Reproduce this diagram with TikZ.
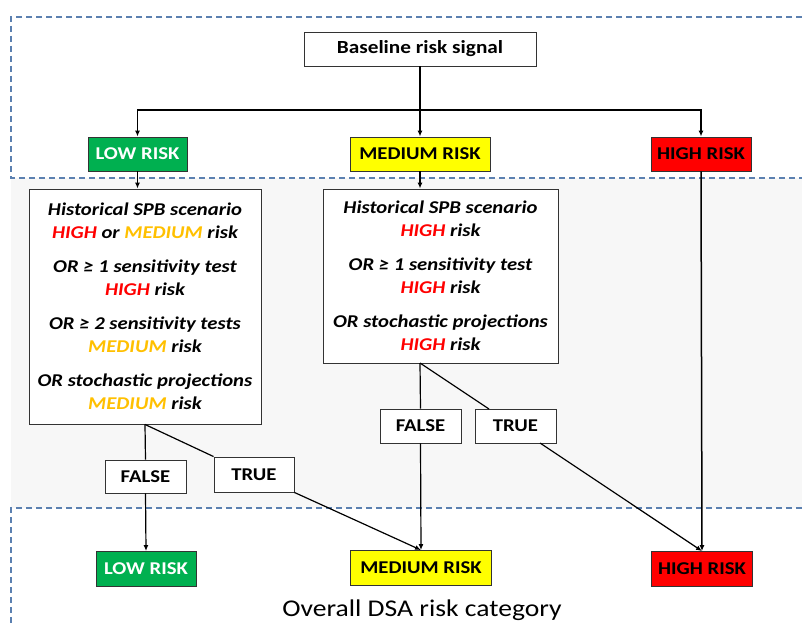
\documentclass[tikz,border=0pt]{standalone}
\usepackage{fontspec}
\setmainfont[FakeStretch=1.15]{Carlito}
\usetikzlibrary{arrows.meta,calc}
\definecolor{lowgreen}{HTML}{00B050}
\definecolor{medyellow}{HTML}{FFFF00}
\definecolor{highred}{HTML}{FF0000}
\definecolor{medorange}{HTML}{FFC000}
\definecolor{dashblue}{HTML}{5B80B0}
\definecolor{bggray}{HTML}{F7F7F7}
\newcommand{\hi}{{\color{highred}HIGH}}
\newcommand{\med}{{\color{medorange}MEDIUM}}
\begin{document}
\begin{tikzpicture}[x=1pt,y=-1pt,
  box/.style={draw=black!80, line width=0.9pt, inner sep=0pt, fill=white},
  riskbox/.style={box, minimum height=34pt, font=\fontsize{18}{21}\selectfont\bfseries},
  tfbox/.style={box, minimum width=81pt, minimum height=34pt, font=\fontsize{18}{21}\selectfont\bfseries},
  condbox/.style={box, align=center, font=\fontsize{18}{23}\selectfont\bfseries\itshape},
  conn/.style={line width=1.2pt, black},
  arr/.style={conn, -{Latex[length=6pt,width=5pt]}},
  zone/.style={dashblue, line width=1.6pt, dash pattern=on 6pt off 4pt}
]
\useasboundingbox (0,0) rectangle (802,626);
% background zones
\fill[bggray] (11,178) rectangle (802,508);
\draw[zone] (802,17) -- (11,17) -- (11,178) -- (802,178);
\draw[zone] (802,508) -- (11,508) -- (11,626);

% top
\node[box, minimum width=232pt, minimum height=34pt, font=\fontsize{18.5}{21}\selectfont\bfseries] (base) at (420,49) {Baseline risk signal};
\node[riskbox, fill=lowgreen, text=white, minimum width=99pt] (lowT) at (137.5,154) {LOW RISK};
\node[riskbox, fill=medyellow, minimum width=140pt] (medT) at (420,154) {MEDIUM RISK};
\node[riskbox, fill=highred, minimum width=100pt] (highT) at (701,154) {HIGH RISK};

% condition boxes
\node[condbox, minimum width=232pt, minimum height=235pt] (c1) at (145,306.5) {%
Historical SPB scenario\\ \hi{} or \med{} risk\\[11pt]
OR ≥ 1 sensitivity test\\ \hi{} risk\\[11pt]
OR ≥ 2 sensitivity tests\\ \med{} risk\\[11pt]
OR stochastic projections\\ \med{} risk};
\node[condbox, minimum width=235pt, minimum height=174pt] (c2) at (440.5,276) {%
Historical SPB scenario\\ \hi{} risk\\[11pt]
OR ≥ 1 sensitivity test\\ \hi{} risk\\[11pt]
OR stochastic projections\\ \hi{} risk};

% true/false
\node[tfbox, minimum width=81pt, minimum height=33pt] (f1) at (145.5,476.5) {FALSE};
\node[tfbox, minimum width=80pt, minimum height=35pt] (t1) at (254,474.5) {TRUE};
\node[tfbox] (f2) at (420.5,426) {FALSE};
\node[tfbox] (t2) at (515.5,426) {TRUE};

% bottom
\node[riskbox, fill=lowgreen, text=white, minimum width=100pt, minimum height=35pt] (lowB) at (146,569) {LOW RISK};
\node[riskbox, fill=medyellow, minimum width=141pt, minimum height=35pt] (medB) at (421,568) {MEDIUM RISK};
\node[riskbox, fill=highred, minimum width=101pt, minimum height=35pt] (highB) at (702,569) {HIGH RISK};
\node[font=\fontsize{24}{28}\selectfont] (title) at (422,610) {Overall DSA risk category};

% connectors
\coordinate (bar) at (420,110);
\coordinate (c2o) at (420,363);
\coordinate (t2in) at (489,409);
\coordinate (t2out) at (540,443);
\draw[conn, line width=1.5pt] (base.south) -- (bar);
\draw[arr, line width=1.5pt] (bar) -- (medT.north);
\draw[arr, line width=1.5pt] (bar) -| (lowT.north);
\draw[arr, line width=1.5pt] (bar) -| (highT.north);
\draw[arr] (lowT.south) -- (lowT.south |- c1.north);
\draw[arr] (medT.south) -- (medT.south |- c2.north);
\draw[conn] (c1.south) -- (f1.north);
\draw[conn] (c1.south) -- (t1.north west);
\draw[arr] (f1.south) -- (lowB.north);
\draw[arr] (t1.south east) -- (medB.north);
\draw[conn] (c2o) -- (f2.north);
\draw[conn] (c2o) -- (t2in);
\draw[arr] (f2.south) -- (medB.north);
\draw[arr] (t2out) -- (highB.north);
\draw[arr, line width=1.5pt] (highT.south) -- (highB.north);
\end{tikzpicture}
\end{document}
